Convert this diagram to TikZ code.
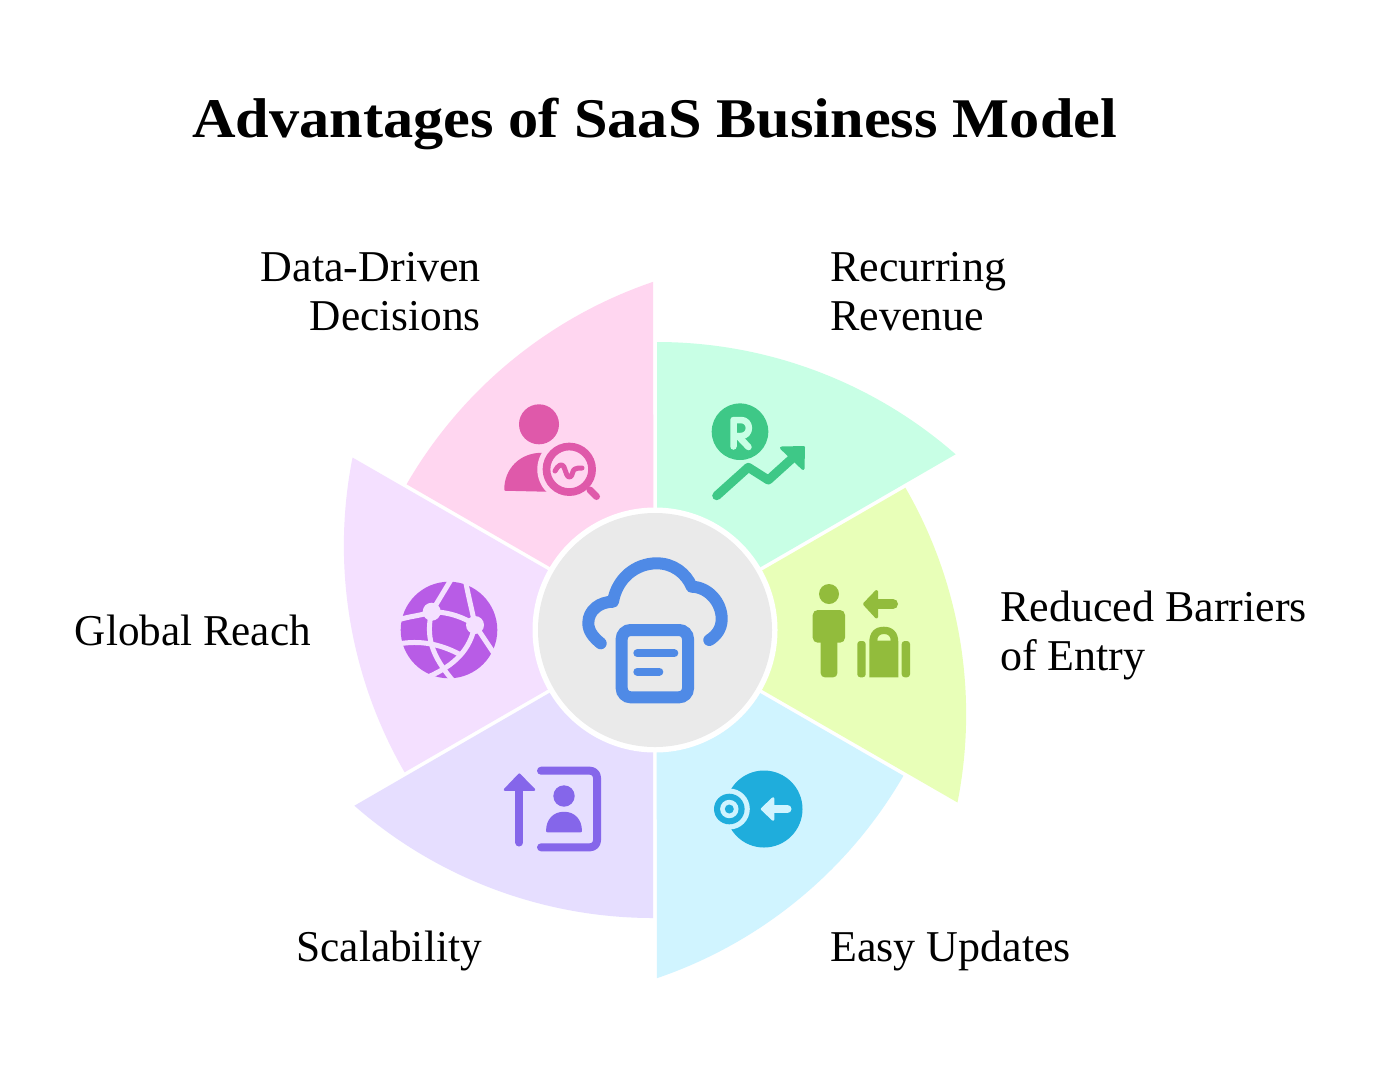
\documentclass[tikz,border=0pt]{standalone}
\usepackage{fontspec}
\setmainfont{Liberation Serif}
\newfontfamily\ttlfont[FakeStretch=1.077]{Liberation Serif}
\definecolor{wA}{HTML}{C8FFE5}
\definecolor{wB}{HTML}{E8FFB8}
\definecolor{wC}{HTML}{D0F4FF}
\definecolor{wD}{HTML}{E6DEFF}
\definecolor{wE}{HTML}{F4E0FF}
\definecolor{wF}{HTML}{FFD6F0}
\definecolor{iA}{HTML}{3EC887}
\definecolor{iB}{HTML}{92BC3C}
\definecolor{iC}{HTML}{1FADDC}
\definecolor{iD}{HTML}{8566EA}
\definecolor{iE}{HTML}{B85CE6}
\definecolor{iF}{HTML}{DF59AA}
\definecolor{iG}{HTML}{4F8AE6}
\definecolor{hub}{HTML}{EAEAEA}
\tikzset{
  lbl/.style={font=\fontsize{44}{48.5}\selectfont, inner sep=0pt, text=black},
  ttl/.style={font=\ttlfont\fontsize{56}{60}\selectfont\bfseries, inner sep=0pt, text=black},
  ln/.style={line cap=round, line join=round},
}
\begin{document}
\begin{tikzpicture}[x=1pt,y=-1pt]
\useasboundingbox (0,0) rectangle (1383,1080);
\fill[white] (0,0) rectangle (1383,1080);
\foreach \c [count=\i from 0] in {wA,wB,wC,wD,wE,wF}{
  \fill[\c, rotate around={-60*\i:(655,630)}]
    (657,342) .. controls (766.8,342) and (873,381.9) .. (955.6,454.3) -- (657,627) -- cycle;
}
\fill[white] (655,630) circle[radius=122.5];
\fill[hub] (655,630) circle[radius=117];

% cloud hub icon
\draw[iG, ln, line width=12pt] (600.7,643.3) .. controls (593,637) and (588.3,631) .. (588.3,623)
  .. controls (588.3,610) and (600,601.7) .. (613,601.7)
  .. controls (617,578) and (636,563.3) .. (656.7,563.3)
  .. controls (673,563.3) and (686,573) .. (691.7,586.7)
  .. controls (708,587) and (721.7,602) .. (721.7,619)
  .. controls (721.7,629) and (716,636) .. (709.3,640);
\draw[iG, line width=12pt, rounded corners=9pt] (621.7,630) rectangle (688,697.3);
\draw[iG, ln, line width=8pt] (637.3,653.3) -- (674.3,653.3);
\draw[iG, ln, line width=8pt] (637.3,671.7) -- (659.3,671.7);

% recurring icon
\fill[iA] (740,431.7) circle[radius=28.3];
\draw[wA, ln, line width=6.5pt] (733.5,446.5) -- (733.5,420) -- (741,420)
  .. controls (751.5,420) and (751.5,436) .. (741,436) -- (733.5,436);
\draw[wA, ln, line width=6.5pt] (738,436) -- (748.5,447);
\draw[iA, ln, line width=9pt] (716.7,495.7) -- (748.3,467.3) -- (768.3,480) -- (796,455);
\fill[iA, ln, draw=iA, line width=3pt] (781.5,448) -- (803.5,447.5) -- (803,468.5) -- cycle;

% reduced barriers icon
\fill[iB] (829,594) circle[radius=10];
\fill[iB, rounded corners=5pt] (812.7,610) rectangle (845,642.7);
\fill[iB, rounded corners=4pt] (820.7,630) rectangle (837.3,677.3);
\draw[iB, ln, line width=10pt] (893,604) -- (875,604);
\fill[iB, ln, draw=iB, line width=3pt] (864.5,604) -- (876.5,591.5) -- (876.5,617) -- cycle;
\fill[iB, even odd rule] (869.3,677.3) -- (869.3,642) .. controls (869.3,632) and (875,626.7) .. (883.8,626.7)
  .. controls (892.6,626.7) and (898.3,632) .. (898.3,642) -- (898.3,677.3) -- cycle
  (877.3,640.7) .. controls (877.3,636) and (880,634) .. (884,634) .. controls (888,634) and (890.7,636) .. (890.7,640.7) -- cycle;
\fill[iB, rounded corners=3pt] (857.3,641) -- (865.7,641) -- (865.7,677.3) -- (857.3,677.3) -- cycle;
\fill[iB, rounded corners=3pt] (901.7,641) -- (910,641) -- (910,677.3) -- (901.7,677.3) -- cycle;

% easy updates icon
\fill[iC] (764,809) circle[radius=38.5];
\fill[wC] (729.3,809) circle[radius=20.5];
\fill[iC] (729.3,809) circle[radius=15.3];
\fill[wC] (729.3,809) circle[radius=9.2];
\fill[iC] (729.3,809) circle[radius=4.5];
\draw[wC, ln, line width=8pt] (787.5,809) -- (773,809);
\fill[wC, ln, draw=wC, line width=2.5pt] (762,809) -- (773,798.5) -- (773,819.5) -- cycle;

% scalability icon
\draw[iD, ln, line width=8pt] (519.3,842.5) -- (519.3,788);
\fill[iD, ln, draw=iD, line width=2.5pt] (505,789.7) -- (534,789.7) -- (519.3,774.7) -- cycle;
\draw[iD, ln, line width=8pt, rounded corners=7pt] (541,770.7) -- (597,770.7) -- (597,847.3) -- (541,847.3);
\fill[iD] (564,796) circle[radius=10.7];
\fill[iD, ln, draw=iD, line width=2.5pt] (547.3,831) .. controls (547.3,820) and (554,813) .. (564,813)
  .. controls (574,813) and (580.7,820) .. (580.7,831) -- cycle;

% global reach icon
\begin{scope}
\fill[iE] (449,630) circle[radius=48.3];
\clip (449,630) circle[radius=49];
\draw[wE, line width=5pt]
  (452,578) -- (431.7,611.7) .. controls (420,616) and (410,616) .. (398,620);
\draw[wE, line width=5pt]
  (431.7,611.7) .. controls (450,612) and (465,618) .. (475,625);
\draw[wE, line width=5pt]
  (431.7,611.7) .. controls (426,635) and (430,655) .. (455,683);
\draw[wE, line width=5pt]
  (398,644) .. controls (420,640) and (440,644) .. (459,654);
\draw[wE, line width=5pt]
  (475,625) .. controls (470,650) and (455,665) .. (428,677);
\draw[wE, line width=5pt]
  (465,578) .. controls (468,595) and (472,610) .. (475,625) -- (495,655);
\fill[wE] (431.7,611.7) circle[radius=9];
\fill[wE] (475,625) circle[radius=9];
\end{scope}

% data-driven icon
\fill[iF] (539,424.3) circle[radius=20];
\fill[iF, ln, draw=iF, line width=2.5pt] (505.5,489.5) .. controls (505.5,470) and (520,454) .. (542,454)
  -- (548,490.5) -- cycle;
\fill[wF] (569.3,469.3) circle[radius=32];
\draw[iF, line width=7.7pt] (569.3,469.3) circle[radius=22.8];
\draw[iF, ln, line width=7pt] (590,490) -- (596.5,496.5);
\draw[iF, ln, line width=5pt] (555,471) .. controls (558,465) and (562,463) .. (564,467)
  .. controls (566,472) and (567,478) .. (570,477) .. controls (573,476) and (572,470) .. (575,469) .. controls (577,468) and (579,468) .. (582,468);

% labels
\node[ttl, anchor=base west] (title) at (192,137) {Advantages of SaaS Business Model};
\node[lbl, anchor=base east] (dd1) at (481,281) {Data-Driven};
\node[lbl, anchor=base east] (dd2) at (481,330) {\scalebox{0.985}[1]{Decisions}};
\node[lbl, anchor=base west] (rr1) at (830,281) {Recurring};
\node[lbl, anchor=base west] (rr2) at (830,330) {Revenue};
\node[lbl, anchor=base west] (rb1) at (1000,621) {Reduced Barriers};
\node[lbl, anchor=base west] (rb2) at (1000,670) {of Entry};
\node[lbl, anchor=base east] (gr) at (311,645) {\scalebox{0.98}[1]{Global Reach}};
\node[lbl, anchor=base east] (sc) at (482,961) {\scalebox{0.985}[1]{Scalability}};
\node[lbl, anchor=base west] (eu) at (830,961) {Easy Updates};
\end{tikzpicture}
\end{document}
